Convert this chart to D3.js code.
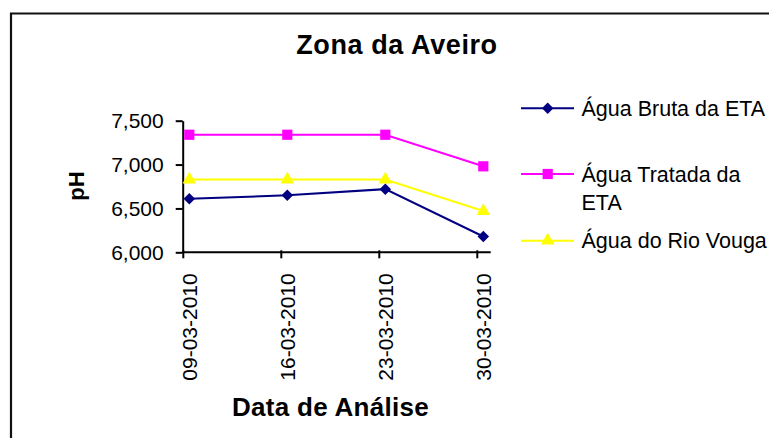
<!DOCTYPE html>
<html>
<head>
<meta charset="utf-8">
<script src="https://cdn.jsdelivr.net/npm/d3@7"></script>
<style>
  body { margin: 0; background: #fff; }
  svg { display: block; font-family: "Liberation Sans", Arial, sans-serif; }
</style>
</head>
<body>
<div id="chart"></div>
<script>
// chart data
const dates = ["09-03-2010", "16-03-2010", "23-03-2010", "30-03-2010"];
const aguaBruta = [6.61, 6.65, 6.72, 6.18];
const aguaTratada = [7.34, 7.34, 7.34, 6.98];
const aguaVouga = [6.83, 6.83, 6.83, 6.47];
const yTicks = [6.0, 6.5, 7.0, 7.5];
const seriesNames = [["Água Bruta da ETA"], ["Água Tratada da", "ETA"], ["Água do Rio Vouga"]];

const width = 769,
    height = 438;

const svg = d3.select("#chart").append("svg")
    .attr("width", width)
    .attr("height", height);

// outer frame (right and bottom edges are cut off)
svg.append("path")
    .attr("d", "M11,440V13.5H771")
    .attr("fill", "none")
    .attr("stroke", "#111")
    .attr("stroke-width", 2.2);

svg.append("text")
    .attr("x", 397)
    .attr("y", 54)
    .attr("text-anchor", "middle")
    .style("font-size", "27px")
    .style("font-weight", "bold")
    .style("letter-spacing", "0.6px")
    .text("Zona da Aveiro");

const plot = { left: 182.7, right: 490.7, top: 120.7, bottom: 252.3 };

const x = d3.scalePoint()
    .domain(dates)
    .range([189.3, 483.3]);

const y = d3.scaleLinear()
    .domain([6, 7.5])
    .range([plot.bottom, plot.top]);

const fmt = d3.formatLocale({ decimal: ",", thousands: ".", grouping: [3], currency: ["", "€"] }).format(".3f");

// y axis
const yAxis = svg.append("g")
    .attr("transform", `translate(${plot.left},0)`)
    .call(d3.axisLeft(y).tickValues(yTicks).tickFormat(fmt).tickSize(7).tickPadding(12).tickSizeOuter(0));
yAxis.select(".domain").attr("stroke-width", 2);
yAxis.selectAll(".tick line").attr("stroke-width", 2);
yAxis.selectAll("text")
    .style("font-size", "21px")
    .attr("fill", "#000")
    .style("font-family", "'Liberation Sans', Arial, sans-serif");

// x axis
const xAxis = svg.append("g")
    .attr("transform", `translate(0,${plot.bottom})`)
    .call(d3.axisBottom(x).tickSize(6).tickSizeOuter(0));
xAxis.select(".domain")
    .attr("d", `M${plot.left},0H${plot.right}`)
    .attr("stroke-width", 2);
xAxis.selectAll(".tick line")
    .attr("x1", -6.5).attr("x2", -6.5)
    .attr("y1", -2)
    .attr("stroke-width", 2);
xAxis.selectAll("text")
    .attr("transform", "rotate(-90)")
    .attr("x", -21)
    .attr("y", 0)
    .attr("dy", "0.36em")
    .attr("text-anchor", "end")
    .attr("fill", "#000")
    .style("font-size", "21px")
    .style("font-family", "'Liberation Sans', Arial, sans-serif");

// axis titles
svg.append("text")
    .attr("transform", "translate(83.5,186) rotate(-90)")
    .attr("text-anchor", "middle")
    .style("font-size", "22px")
    .style("font-weight", "bold")
    .text("pH");

svg.append("text")
    .attr("x", 330.5)
    .attr("y", 415.5)
    .attr("text-anchor", "middle")
    .style("font-size", "26px")
    .style("font-weight", "bold")
    .style("letter-spacing", "0.3px")
    .text("Data de Análise");

const series = [
    { name: seriesNames[0], values: aguaBruta, colour: "#000080", symbol: d3.symbolSquare, size: 66, rotate: 45 },
    { name: seriesNames[1], values: aguaTratada, colour: "#ff00ff", symbol: d3.symbolSquare, size: 104, rotate: 0 },
    { name: seriesNames[2], values: aguaVouga, colour: "#ffff00", symbol: d3.symbolTriangle, size: 80, rotate: 0 }
];

const line = d3.line()
    .x((d, i) => x(dates[i]))
    .y(d => y(d));

// draw in reverse so the first series sits on top
series.slice().reverse().forEach(s => {
    const g = svg.append("g");
    g.append("path")
        .attr("d", line(s.values))
        .attr("fill", "none")
        .attr("stroke", s.colour)
        .attr("stroke-width", 2);
    g.selectAll("path.marker")
        .data(s.values)
        .enter()
        .append("path")
        .attr("class", "marker")
        .attr("d", d3.symbol().type(s.symbol).size(s.size))
        .attr("transform", (d, i) => `translate(${x(dates[i])},${y(d)}) rotate(${s.rotate})`)
        .attr("fill", s.colour);
});

// legend
const legendRows = [108.3, 174, 240.7];
series.forEach((s, i) => {
    const g = svg.append("g")
        .attr("transform", `translate(521,${legendRows[i]})`);
    g.append("line")
        .attr("x1", 0).attr("x2", 53)
        .attr("stroke", s.colour)
        .attr("stroke-width", 2);
    g.append("path")
        .attr("d", d3.symbol().type(s.symbol).size(s.size))
        .attr("transform", `translate(26.7,0) rotate(${s.rotate})`)
        .attr("fill", s.colour);
    const t = g.append("text")
        .attr("x", 60.5)
        .attr("y", 0)
        .style("font-size", "21.5px");
    s.name.forEach((part, j) => {
        t.append("tspan")
            .attr("x", 60.5)
            .attr("dy", j === 0 ? "0.36em" : "28.5px")
            .text(part);
    });
});
</script>
</body>
</html>
